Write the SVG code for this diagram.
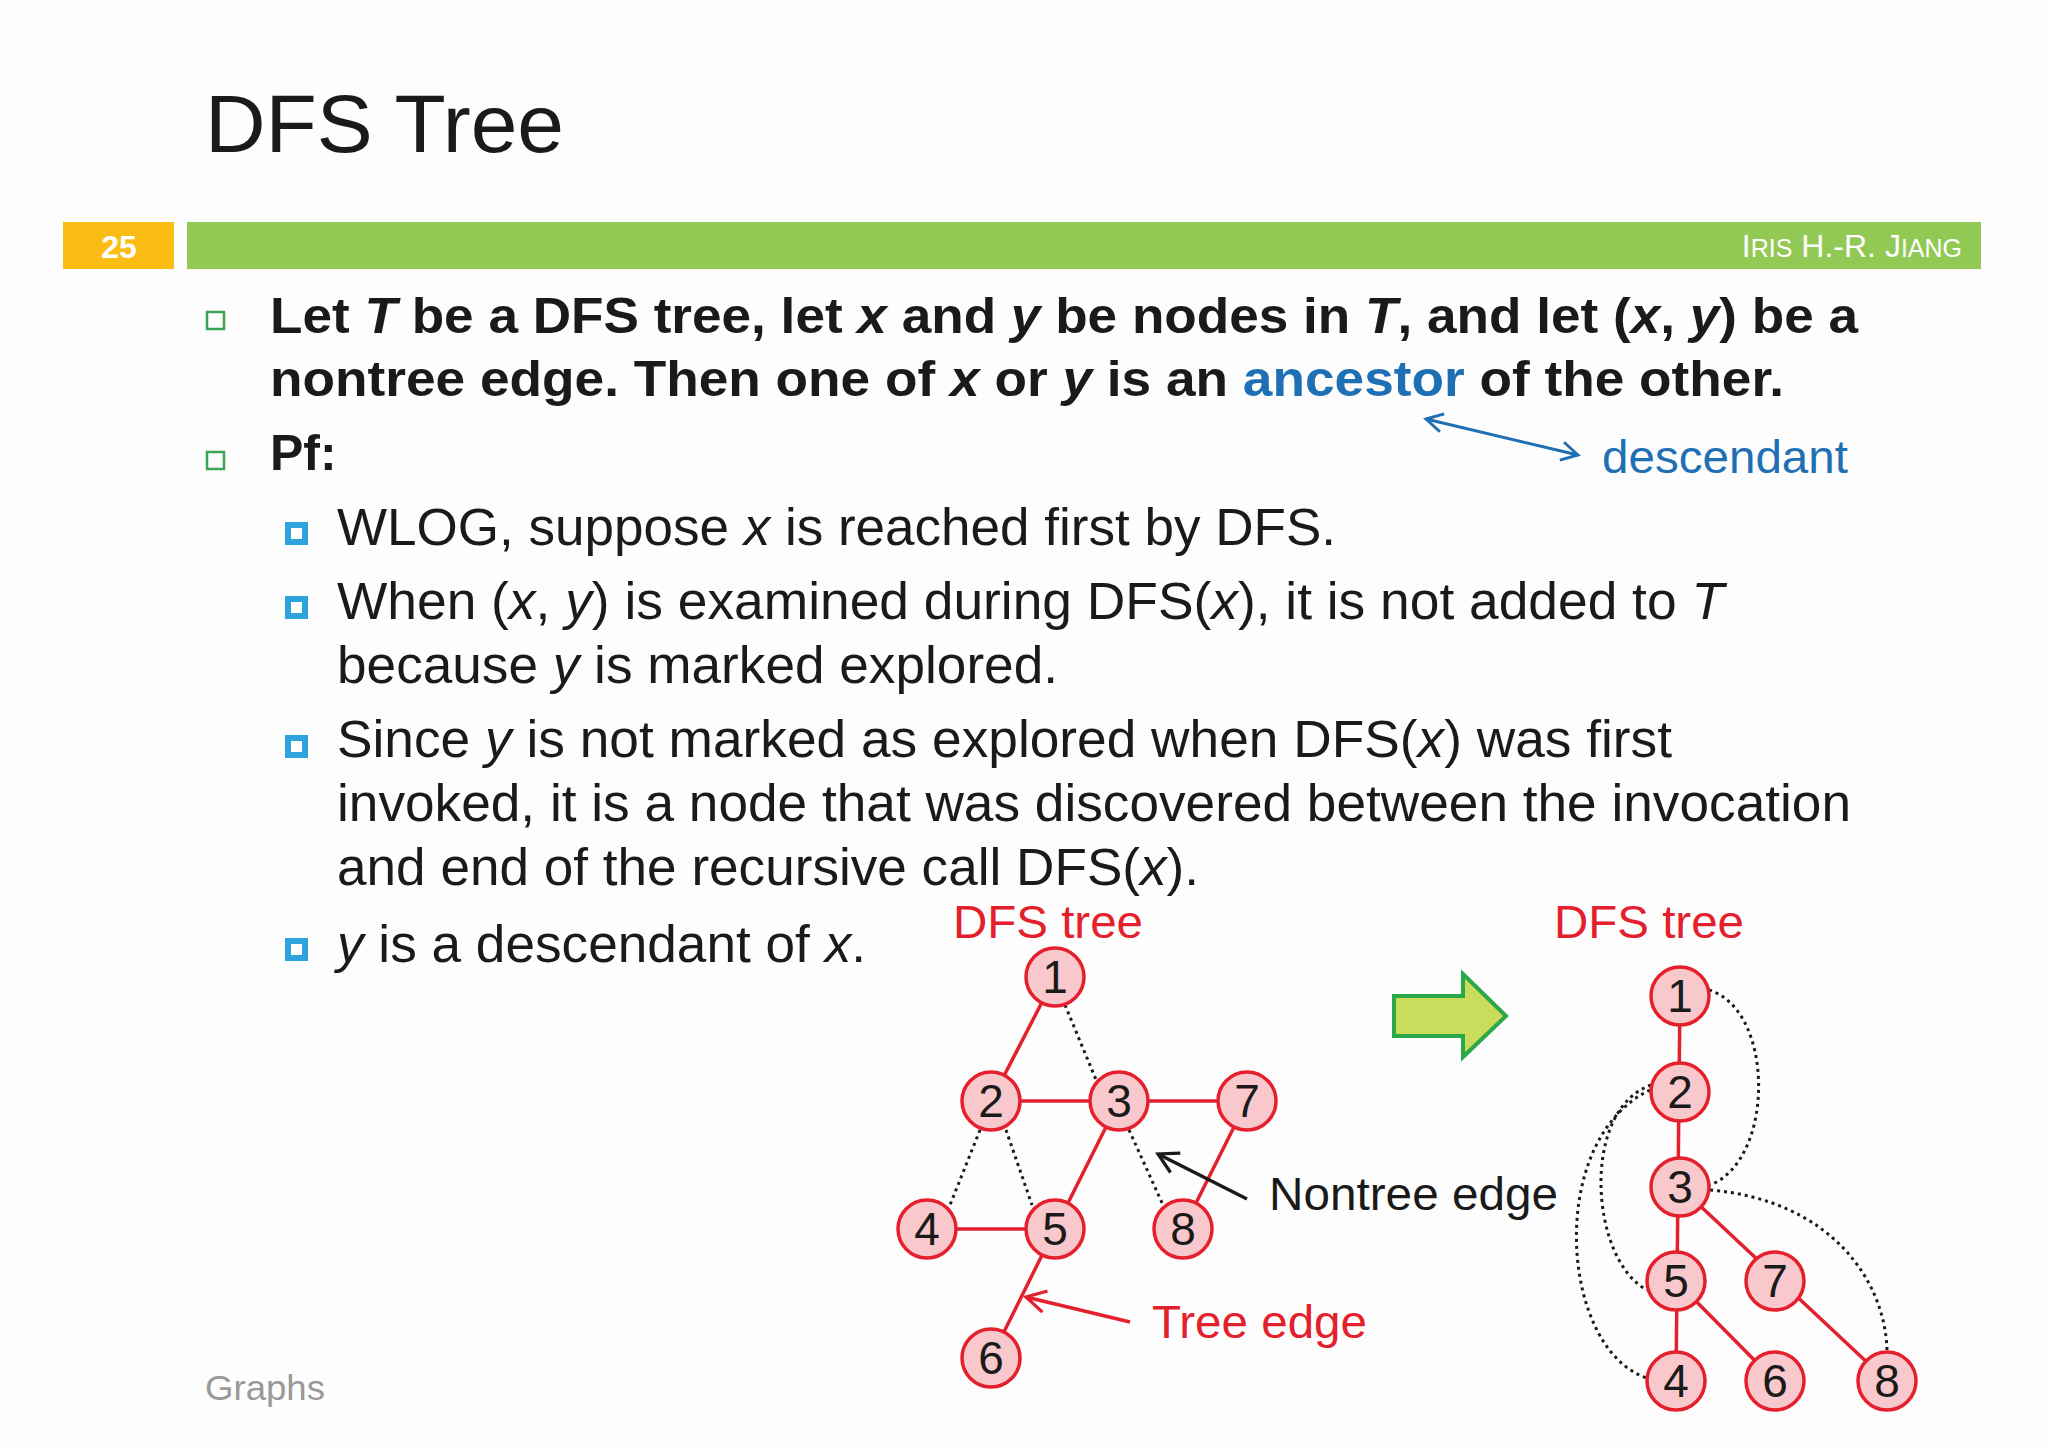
<svg xmlns="http://www.w3.org/2000/svg" width="2048" height="1447" viewBox="0 0 2048 1447">
<style>
.t{font-family:"Liberation Sans",Arial,sans-serif}
.b{font-weight:bold;font-size:50px;fill:#1a1a1a}
.r{font-size:51px;fill:#1a1a1a}
.n circle{fill:#f8c8cc;stroke:#e3202c;stroke-width:3.5}
.n text{font-family:"Liberation Sans",Arial,sans-serif;font-size:46px;fill:#1a1a1a;text-anchor:middle}
.te{stroke:#e3202c;stroke-width:3.5;fill:none}
.ne{stroke:#1a1a1a;stroke-width:3;stroke-dasharray:3 4;fill:none}
.red{fill:#e3202c;font-size:47px}
</style>
<defs>
<marker id="ab" viewBox="0 0 12 12" refX="10" refY="6" markerWidth="22" markerHeight="22" markerUnits="userSpaceOnUse" orient="auto-start-reverse"><path d="M1,1 L10,6 L1,11" fill="none" stroke="#1f6fb5" stroke-width="1.6"/></marker>
<marker id="ak" viewBox="0 0 12 12" refX="10" refY="6" markerWidth="26" markerHeight="26" markerUnits="userSpaceOnUse" orient="auto-start-reverse"><path d="M1,1 L10,6 L1,11" fill="none" stroke="#1a1a1a" stroke-width="1.5"/></marker>
<marker id="ar" viewBox="0 0 12 12" refX="10" refY="6" markerWidth="26" markerHeight="26" markerUnits="userSpaceOnUse" orient="auto-start-reverse"><path d="M1,1 L10,6 L1,11" fill="none" stroke="#e3202c" stroke-width="1.5"/></marker>
</defs>
<rect width="2048" height="1447" fill="#fdfdfd"/>
<text class="t" x="205" y="152" font-size="82" fill="#1a1a1a" textLength="359" lengthAdjust="spacingAndGlyphs">DFS Tree</text>
<rect x="63" y="222" width="111" height="47" fill="#fbbd14"/>
<text class="t" x="119" y="258" font-size="32" font-weight="bold" fill="#fff" text-anchor="middle">25</text>
<rect x="187" y="222" width="1794" height="47" fill="#92c954"/>
<text class="t" x="1962" y="257" font-size="32" fill="#fff" text-anchor="end">I<tspan font-size="25">RIS</tspan> H.-R. J<tspan font-size="25">IANG</tspan></text>

<rect x="207" y="312" width="17" height="17" fill="none" stroke="#3aa655" stroke-width="2.5"/>
<text class="t b" x="270" y="333" textLength="1588" lengthAdjust="spacingAndGlyphs">Let <tspan font-style="italic">T</tspan> be a DFS tree, let <tspan font-style="italic">x</tspan> and <tspan font-style="italic">y</tspan> be nodes in <tspan font-style="italic">T</tspan>, and let (<tspan font-style="italic">x</tspan>, <tspan font-style="italic">y</tspan>) be a</text>
<text class="t b" x="270" y="396" textLength="1514" lengthAdjust="spacingAndGlyphs">nontree edge. Then one of <tspan font-style="italic">x</tspan> or <tspan font-style="italic">y</tspan> is an <tspan fill="#1f6fb5">ancestor</tspan> of the other.</text>
<rect x="207" y="452" width="17" height="17" fill="none" stroke="#3aa655" stroke-width="2.5"/>
<text class="t b" x="270" y="470">Pf:</text>
<line x1="1426" y1="419" x2="1578" y2="455" stroke="#1f6fb5" stroke-width="3" marker-start="url(#ab)" marker-end="url(#ab)"/>
<text class="t" x="1602" y="473" font-size="47" fill="#1f6fb5" textLength="246" lengthAdjust="spacingAndGlyphs">descendant</text>

<g fill="#fff" stroke="#2ea3dc" stroke-width="6">
<rect x="288" y="525" width="17" height="17"/>
<rect x="288" y="599" width="17" height="17"/>
<rect x="288" y="738" width="17" height="17"/>
<rect x="288" y="941" width="17" height="17"/>
</g>
<text class="t r" x="337" y="545" textLength="999" lengthAdjust="spacingAndGlyphs">WLOG, suppose <tspan font-style="italic">x</tspan> is reached first by DFS.</text>
<text class="t r" x="337" y="619" textLength="1387" lengthAdjust="spacingAndGlyphs">When (<tspan font-style="italic">x</tspan>, <tspan font-style="italic">y</tspan>) is examined during DFS(<tspan font-style="italic">x</tspan>), it is not added to <tspan font-style="italic">T</tspan></text>
<text class="t r" x="337" y="683" textLength="721" lengthAdjust="spacingAndGlyphs">because <tspan font-style="italic">y</tspan> is marked explored.</text>
<text class="t r" x="337" y="757" textLength="1335" lengthAdjust="spacingAndGlyphs">Since <tspan font-style="italic">y</tspan> is not marked as explored when DFS(<tspan font-style="italic">x</tspan>) was first</text>
<text class="t r" x="337" y="821" textLength="1514" lengthAdjust="spacingAndGlyphs">invoked, it is a node that was discovered between the invocation</text>
<text class="t r" x="337" y="885" textLength="862" lengthAdjust="spacingAndGlyphs">and end of the recursive call DFS(<tspan font-style="italic">x</tspan>).</text>
<text class="t r" x="337" y="962" textLength="529" lengthAdjust="spacingAndGlyphs"><tspan font-style="italic">y</tspan> is a descendant of <tspan font-style="italic">x</tspan>.</text>
<text class="t" x="205" y="1400" font-size="35" fill="#999" textLength="120" lengthAdjust="spacingAndGlyphs">Graphs</text>

<text class="t red" x="953" y="938" textLength="190" lengthAdjust="spacingAndGlyphs">DFS tree</text>
<text class="t red" x="1554" y="938" textLength="190" lengthAdjust="spacingAndGlyphs">DFS tree</text>
<text class="t" x="1269" y="1210" font-size="47" fill="#1a1a1a" textLength="289" lengthAdjust="spacingAndGlyphs">Nontree edge</text>
<text class="t red" x="1152" y="1338" textLength="215" lengthAdjust="spacingAndGlyphs">Tree edge</text>

<g id="connectors">
<line class="te" x1="1055" y1="977" x2="991" y2="1101"/>
<line class="te" x1="991" y1="1101" x2="1247" y2="1101"/>
<line class="te" x1="1119" y1="1101" x2="1055" y2="1229"/>
<line class="te" x1="927" y1="1229" x2="1055" y2="1229"/>
<line class="te" x1="1055" y1="1229" x2="991" y2="1358"/>
<line class="te" x1="1247" y1="1101" x2="1183" y2="1229"/>
<line class="ne" x1="1065" y1="1005" x2="1097" y2="1082"/>
<line class="ne" x1="980" y1="1130" x2="950" y2="1205"/>
<line class="ne" x1="1006" y1="1130" x2="1032" y2="1205"/>
<line class="ne" x1="1129" y1="1130" x2="1163" y2="1205"/>
<line x1="1247" y1="1199" x2="1158" y2="1154" stroke="#1a1a1a" stroke-width="3.5" marker-end="url(#ak)"/>
<line x1="1130" y1="1322" x2="1026" y2="1297" stroke="#e3202c" stroke-width="3.5" marker-end="url(#ar)"/>

<line class="te" x1="1680" y1="996" x2="1676" y2="1381"/>
<line class="te" x1="1680" y1="1187" x2="1887" y2="1381"/>
<line class="te" x1="1676" y1="1281" x2="1775" y2="1381"/>
<path class="ne" d="M1709,990 C1775,1010 1775,1160 1710,1185"/>
<path class="ne" d="M1710,1190 C1830,1200 1885,1280 1887,1350"/>
<path class="ne" d="M1651,1085 C1580,1110 1590,1260 1647,1290"/>
<path class="ne" d="M1650,1090 C1545,1140 1560,1350 1647,1378"/>
</g>

<path d="M1394,996 L1463,996 L1463,974 L1506,1016 L1463,1057 L1463,1036 L1394,1036 Z" fill="#c9dc5c" stroke="#2aa84a" stroke-width="4"/>

<g id="L1" class="n"><circle cx="1055" cy="977" r="29"/><text x="1055" y="993">1</text></g>
<g id="L2" class="n"><circle cx="991" cy="1101" r="29"/><text x="991" y="1117">2</text></g>
<g id="L3" class="n"><circle cx="1119" cy="1101" r="29"/><text x="1119" y="1117">3</text></g>
<g id="L7" class="n"><circle cx="1247" cy="1101" r="29"/><text x="1247" y="1117">7</text></g>
<g id="L4" class="n"><circle cx="927" cy="1229" r="29"/><text x="927" y="1245">4</text></g>
<g id="L5" class="n"><circle cx="1055" cy="1229" r="29"/><text x="1055" y="1245">5</text></g>
<g id="L8" class="n"><circle cx="1183" cy="1229" r="29"/><text x="1183" y="1245">8</text></g>
<g id="L6" class="n"><circle cx="991" cy="1358" r="29"/><text x="991" y="1374">6</text></g>

<g id="R1" class="n"><circle cx="1680" cy="996" r="29"/><text x="1680" y="1012">1</text></g>
<g id="R2" class="n"><circle cx="1680" cy="1092" r="29"/><text x="1680" y="1108">2</text></g>
<g id="R3" class="n"><circle cx="1680" cy="1187" r="29"/><text x="1680" y="1203">3</text></g>
<g id="R5" class="n"><circle cx="1676" cy="1281" r="29"/><text x="1676" y="1297">5</text></g>
<g id="R7" class="n"><circle cx="1775" cy="1281" r="29"/><text x="1775" y="1297">7</text></g>
<g id="R4" class="n"><circle cx="1676" cy="1381" r="29"/><text x="1676" y="1397">4</text></g>
<g id="R6" class="n"><circle cx="1775" cy="1381" r="29"/><text x="1775" y="1397">6</text></g>
<g id="R8" class="n"><circle cx="1887" cy="1381" r="29"/><text x="1887" y="1397">8</text></g>
</svg>
